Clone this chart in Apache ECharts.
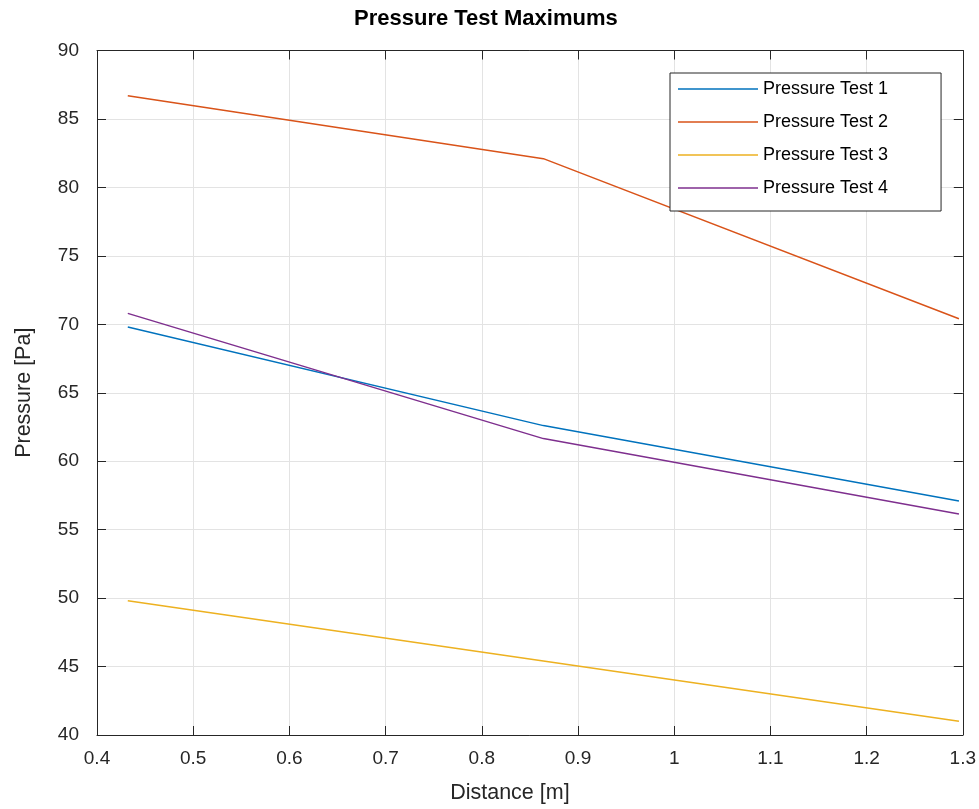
<!DOCTYPE html>
<html>
<head>
<meta charset="utf-8">
<title>Pressure Test Maximums</title>
<script src="https://cdn.jsdelivr.net/npm/echarts@6/dist/echarts.min.js"></script>
<style>
	html, body { margin: 0; padding: 0; background: #fff; }
	#chart { width: 979px; height: 809px; }
</style>
</head>
<body>
<div id="chart"></div>
<script>
	// distance [m] of the three measuring points
	const distances = [0.432, 0.864, 1.296];
	const test1 = [69.8, 62.6, 57.1];
	const test2 = [86.7, 82.1, 70.4];
	const test3 = [49.8, 45.4, 41.0];
	const test4 = [70.8, 61.65, 56.15];
	const seriesNames = ['Pressure Test 1', 'Pressure Test 2', 'Pressure Test 3', 'Pressure Test 4'];
	const seriesValues = [test1, test2, test3, test4];
	const colors = ['#0072BD', '#D95319', '#EDB120', '#7E2F8E'];

	const ink = '#262626';
	const font = 'Liberation Sans, Arial, Helvetica, sans-serif';

	function pairs(vals) {
		return distances.map((d, i) => [d, vals[i]]);
	}

	const boxAxis = {
		axisLine: { show: true, lineStyle: { color: ink, width: 1 } },
		axisTick: { show: true, inside: true, length: 9, lineStyle: { color: ink } },
		axisLabel: { show: false },
		splitLine: { show: false }
	};

	var myChart = echarts.init(document.getElementById('chart'));
	var option = {
		animation: false,
		backgroundColor: '#fff',
		color: colors,
		title: {
			text: 'Pressure Test Maximums',
			left: 354,
			top: 8,
			padding: 0,
			textStyle: { fontFamily: font, fontSize: 22, fontWeight: 'bold', color: '#000' }
		},
		legend: {
			orient: 'vertical',
			left: 670,
			top: 73,
			icon: 'rect',
			itemWidth: 80,
			itemHeight: 1.5,
			itemGap: 13,
			padding: [6, 53, 13, 8],
			borderColor: ink,
			borderWidth: 1,
			backgroundColor: '#fff',
			data: seriesNames,
			textStyle: { fontFamily: font, fontSize: 18, color: '#000', lineHeight: 20 }
		},
		grid: { left: 97, right: 16, top: 50.5, bottom: 74, containLabel: false },
		xAxis: [
			{
				type: 'value',
				min: 0.4,
				max: 1.3,
				interval: 0.1,
				name: 'Distance [m]',
				nameLocation: 'middle',
				nameGap: 47,
				nameTextStyle: { fontFamily: font, fontSize: 21.5, color: ink, padding: [0, 40, 0, 0] },
				axisLine: { show: true, lineStyle: { color: ink, width: 1 } },
				axisTick: { show: true, inside: true, length: 9, lineStyle: { color: ink } },
				axisLabel: { fontFamily: font, fontSize: 19, color: ink, margin: 14 },
				splitLine: { show: true, lineStyle: { color: '#e3e3e3', width: 1 } }
			},
			Object.assign({ type: 'value', position: 'top', min: 0.4, max: 1.3, interval: 0.1 }, boxAxis)
		],
		yAxis: [
			{
				type: 'value',
				min: 40,
				max: 90,
				interval: 5,
				name: 'Pressure [Pa]',
				nameLocation: 'middle',
				nameGap: 62,
				nameTextStyle: { fontFamily: font, fontSize: 21.5, color: ink },
				axisLine: { show: true, lineStyle: { color: ink, width: 1 } },
				axisTick: { show: true, inside: true, length: 9, lineStyle: { color: ink } },
				axisLabel: { fontFamily: font, fontSize: 19, color: ink, margin: 18 },
				splitLine: { show: true, lineStyle: { color: '#e3e3e3', width: 1 } }
			},
			Object.assign({ type: 'value', position: 'right', min: 40, max: 90, interval: 5 }, boxAxis)
		],
		series: seriesNames.map((name, i) => ({
			name: name,
			type: 'line',
			data: pairs(seriesValues[i]),
			symbol: 'none',
			lineStyle: { color: colors[i], width: 1.5 },
			itemStyle: { color: colors[i] }
		}))
	};
	myChart.setOption(option);
</script>
</body>
</html>
